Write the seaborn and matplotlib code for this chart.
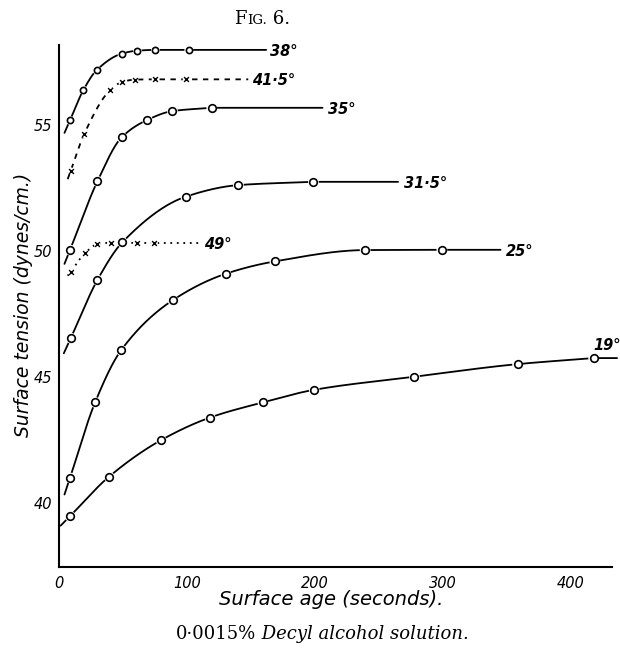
import numpy as np
import pandas as pd
import matplotlib
matplotlib.use("Agg")
import matplotlib.pyplot as plt
import seaborn as sns
from matplotlib.offsetbox import TextArea, HPacker, AnchoredOffsetbox

# ---- measured surface tension (dynes/cm) against surface age (s) ----
labels = ["38°", "41·5°", "35°", "31·5°", "49°", "25°", "19°"]

age_38 = [8.8, 19.2, 29.7, 49.2, 61.4, 75.5, 101.6]
ten_38 = [55.2, 56.4, 57.2, 57.85, 57.97, 58.0, 58.0]

age_41 = [9.4, 19.8, 40.1, 49.2, 59.6, 75.2, 99.5]
ten_41 = [53.2, 54.65, 56.4, 56.72, 56.82, 56.83, 56.83]

age_35 = [8.8, 30.2, 49.2, 69.2, 88.8, 119.5]
ten_35 = [50.05, 52.78, 54.53, 55.22, 55.57, 55.7]

age_31 = [9.4, 30.2, 49.7, 99.2, 140.3, 198.9]
ten_31 = [46.55, 48.86, 50.36, 52.17, 52.63, 52.76]

age_49 = [9.4, 20.5, 30.2, 40.6, 60.9, 74.7]
ten_49 = [49.19, 49.93, 50.28, 50.34, 50.33, 50.33]

age_25 = [8.8, 28.4, 48.7, 89.1, 130.5, 168.8, 239.3, 299.2]
ten_25 = [41.0, 44.0, 46.07, 48.06, 49.11, 49.6, 50.05, 50.06]

age_19 = [8.8, 39.3, 79.9, 118.2, 159.4, 199.5, 277.8, 358.3, 417.7]
ten_19 = [39.48, 41.05, 42.5, 43.4, 44.0, 44.5, 45.02, 45.52, 45.76]

x_ticks = [0, 100, 200, 300, 400]
y_ticks = [40, 45, 50, 55]

# ---- drawing layout for each curve ----
# (ages, tensions, marker, line style, curve start x, curve end x, label offset)
curves = {
    "38°":   (age_38, ten_38, "o", "-",            4.5, 162, (3, -1)),
    "41·5°": (age_41, ten_41, "x", (0, (3, 3)),    7.0, 148, (3, -1)),
    "35°":   (age_35, ten_35, "o", "-",            4.5, 206, (4, -1)),
    "31·5°": (age_31, ten_31, "o", "-",            4.0, 265, (4, -1)),
    "49°":   (age_49, ten_49, "x", (0, (1, 2.6)),  7.0, 110, (3, -1)),
    "25°":   (age_25, ten_25, "o", "-",            4.5, 345, (4, -1)),
    "19°":   (age_19, ten_19, "o", "-",            1.5, 436, (-17, 9)),
}


def monotone_curve(x, y, x0, x1, n=300):
    """Smooth monotone cubic through the points, with a short straight
    lead-in before the first point and a level run-out after the last."""
    x = np.asarray(x, float)
    y = np.asarray(y, float)
    h = np.diff(x)
    d = np.diff(y) / h
    m = np.zeros_like(x)
    m[0], m[-1] = d[0], d[-1]
    for i in range(1, len(x) - 1):
        if d[i - 1] * d[i] <= 0:
            m[i] = 0.0
        else:
            w1 = 2 * h[i] + h[i - 1]
            w2 = h[i] + 2 * h[i - 1]
            m[i] = (w1 + w2) / (w1 / d[i - 1] + w2 / d[i])
    xs, ys = [], []
    for i in range(len(x) - 1):
        t = np.linspace(0, 1, n // (len(x) - 1) + 2)
        h00 = 2 * t**3 - 3 * t**2 + 1
        h10 = t**3 - 2 * t**2 + t
        h01 = -2 * t**3 + 3 * t**2
        h11 = t**3 - t**2
        xs.append(x[i] + t * h[i])
        ys.append(h00 * y[i] + h10 * h[i] * m[i] + h01 * y[i + 1] + h11 * h[i] * m[i + 1])
    xs = np.concatenate(xs)
    ys = np.concatenate(ys)
    lead_y = y[0] - d[0] * (x[0] - x0)
    xs = np.concatenate([[x0], xs, [x1]])
    ys = np.concatenate([[lead_y], ys, [y[-1]]])
    return xs, ys


sns.set_theme(style="white")
plt.rcParams["font.family"] = ["DejaVu Sans"]

fig = plt.figure(figsize=(6.2, 6.5), dpi=100)
ax = fig.add_axes([0.0947, 0.1272, 0.8923, 0.8038])

for name, (xa, ya, mk, ls, x0, x1, off) in curves.items():
    cx, cy = monotone_curve(xa, ya, x0, x1)
    line_df = pd.DataFrame({"age": cx, "tension": cy})
    sns.lineplot(data=line_df, x="age", y="tension", ax=ax, sort=False,
                 estimator=None, color="black", linewidth=1.3, linestyle=ls)
    for ln in ax.lines[-1:]:
        ln.set_clip_on(False)
    pts = pd.DataFrame({"age": xa, "tension": ya})
    if mk == "o":
        size = 20 if name == "38°" else 30
        sns.scatterplot(data=pts, x="age", y="tension", ax=ax, marker="o",
                        s=size * 2.0, color="white", edgecolor="none", zorder=3)
        sns.scatterplot(data=pts, x="age", y="tension", ax=ax, marker="o",
                        s=size, facecolor="white", edgecolor="black",
                        linewidth=1.2, zorder=4)
    else:
        sns.scatterplot(data=pts, x="age", y="tension", ax=ax, marker="o",
                        s=24, color="white", edgecolor="none", zorder=3)
        sns.scatterplot(data=pts, x="age", y="tension", ax=ax, marker="x",
                        s=12, color="black", linewidth=1.0, zorder=4)
    ax.annotate(name, xy=(x1, ya[-1]), xytext=off, textcoords="offset points",
                ha="left", va="center", fontsize=10.5, fontweight="bold",
                fontstyle="italic", color="black", annotation_clip=False)

ax.set_xlim(0, 432)
ax.set_ylim(37.45, 58.2)
ax.set_xticks(x_ticks)
ax.set_yticks(y_ticks)
ax.set_xticklabels([str(v) for v in x_ticks], fontstyle="italic", fontsize=10.5)
ax.set_yticklabels([str(v) for v in y_ticks], fontstyle="italic", fontsize=10.5)
ax.tick_params(axis="both", direction="out", length=3, width=1.2, color="black",
               pad=2, labelcolor="black")
ax.tick_params(axis="x", pad=3)
sns.despine(ax=ax, top=True, right=True)
for side in ("left", "bottom"):
    ax.spines[side].set_color("black")
    ax.spines[side].set_linewidth(1.5)

ax.set_xlabel("Surface age (seconds).", fontsize=14, fontstyle="italic",
              color="black", labelpad=0)
ax.xaxis.set_label_coords(0.492, -0.044)
ax.set_ylabel("Surface tension (dynes/cm.)", fontsize=13.5, fontstyle="italic",
              color="black", labelpad=6)
ax.yaxis.set_label_coords(-0.047, 0.502)

# Figure heading in small capitals
title = HPacker(children=[
    TextArea("F", textprops=dict(family="DejaVu Serif", size=13, color="black")),
    TextArea("IG.", textprops=dict(family="DejaVu Serif", size=9.5, color="black")),
    TextArea(" 6.", textprops=dict(family="DejaVu Serif", size=13, color="black")),
], align="baseline", pad=0, sep=0)
fig.add_artist(AnchoredOffsetbox(loc="center", child=title, pad=0, borderpad=0,
                                 frameon=False, bbox_to_anchor=(262 / 620, 1 - 19 / 650),
                                 bbox_transform=fig.transFigure))

# Caption under the axes
caption = HPacker(children=[
    TextArea("0·0015%", textprops=dict(family="DejaVu Serif", size=13, color="black")),
    TextArea(" Decyl alcohol solution.", textprops=dict(family="DejaVu Serif", size=13,
                                                       style="italic", color="black")),
], align="baseline", pad=0, sep=0)
fig.add_artist(AnchoredOffsetbox(loc="center", child=caption, pad=0, borderpad=0,
                                 frameon=False, bbox_to_anchor=(322 / 620, 1 - 634 / 650),
                                 bbox_transform=fig.transFigure))

fig.savefig("out.png", dpi=100, facecolor="white")
